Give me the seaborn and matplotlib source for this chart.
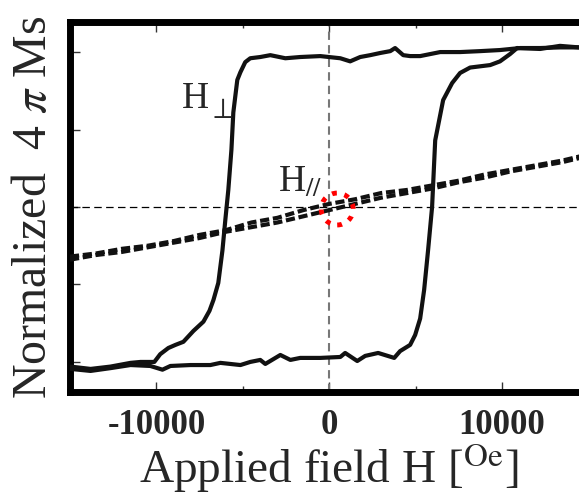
import numpy as np
import pandas as pd
import matplotlib
matplotlib.use("Agg")
import matplotlib.pyplot as plt
from matplotlib.patches import Ellipse
import seaborn as sns

# H_perp hysteresis loop: descending branch (from +H to -H)
perp_down_x = [15000, 14450, 13350, 12200, 11040, 9880, 8730, 7570, 6420, 5260, 4680, 4280, 3810,
               3530, 2950, 2370, 1790, 1210, 640, -520, -1680, -2540, -3410, -3990, -4570, -4860,
               -5140, -5320, -5430, -5550, -5660, -5840, -6010, -6180, -6420, -6700, -6930, -7280,
               -7860, -8440, -8900, -9310, -9780, -10120, -10920, -11500, -12660, -13810, -14970]
perp_down_y = [1.04, 1.03, 1.03, 1.026, 1.026, 1.013, 1.006, 1.0, 1.0, 0.974, 0.974, 0.98, 1.026,
               1.006, 0.994, 0.98, 0.968, 0.94, 0.96, 0.974, 0.968, 0.96, 0.98, 0.968, 0.96, 0.935,
               0.87, 0.82, 0.72, 0.61, 0.37, 0.11, -0.08, -0.28, -0.49, -0.60, -0.67, -0.74,
               -0.80, -0.87, -0.89, -0.91, -0.95, -1.0, -1.0, -1.006, -1.03, -1.045, -1.03]

# ascending branch (from -H to +H)
perp_up_x = [-14970, -13810, -12660, -11500, -10350, -9650, -9190, -8030, -6880, -6300, -5140,
             -4570, -3990, -3700, -2830, -2250, -1680, -520, 640, 920, 1620, 2080, 2830, 3760,
             4100, 4680, 4970, 5260, 5490, 5720, 5950, 6130, 6590, 7110, 7570, 8150, 9310, 9880,
             10460, 10870, 12200, 13350, 14450, 15000]
perp_up_y = [-1.045, -1.058, -1.04, -1.02, -1.026, -1.05, -1.026, -1.02, -1.02, -1.006, -1.02,
             -1.0, -0.987, -1.013, -0.955, -0.987, -0.974, -0.974, -0.968, -0.942, -0.994, -0.961,
             -0.942, -0.974, -0.93, -0.89, -0.826, -0.72, -0.535, -0.277, 0.0, 0.43, 0.69, 0.80,
             0.865, 0.90, 0.916, 0.94, 0.987, 1.026, 1.02, 1.04, 1.03, 1.04]

# H_parallel: two nearly overlapping branches
par_x = [-15000, -13500, -12000, -10500, -9000, -7500, -6000, -4500, -3000, -1500, 0,
         1500, 3000, 4500, 6000, 7500, 9000, 10500, 12000, 13500, 15000]
par_y_up = [-0.32, -0.30, -0.27, -0.25, -0.22, -0.18, -0.15, -0.10, -0.07, -0.02, 0.02,
            0.05, 0.09, 0.11, 0.14, 0.17, 0.21, 0.24, 0.27, 0.30, 0.34]
par_y_down = [-0.34, -0.31, -0.29, -0.26, -0.23, -0.20, -0.16, -0.13, -0.10, -0.06, -0.02,
              0.02, 0.06, 0.09, 0.12, 0.16, 0.19, 0.23, 0.26, 0.29, 0.33]

x_ticks = [-10000, 0, 10000]
x_ticklabels = ["-10000", "0", "10000"]

sns.set_style("ticks")
plt.rcParams['font.family'] = ['Liberation Serif', 'DejaVu Serif']
plt.rcParams['mathtext.fontset'] = 'stix'

fig = plt.figure(figsize=(5.79, 4.95), dpi=100)
ax = fig.add_axes([70/579, (495-392)/495, (588.5-70)/579, (392-22)/495])

ax.axvline(0, color='#777777', lw=1.5, dashes=(4, 2.5), zorder=1)
ax.axhline(0, color='black', lw=0.9, dashes=(6, 3.5), zorder=1)

sns.lineplot(x=perp_down_x, y=perp_down_y, sort=False, estimator=None, ax=ax,
             color='#111111', lw=3.0, zorder=3)
sns.lineplot(x=perp_up_x, y=perp_up_y, sort=False, estimator=None, ax=ax,
             color='#111111', lw=3.0, zorder=3)
sns.lineplot(x=par_x, y=par_y_up, sort=False, estimator=None, ax=ax,
             color='#111111', lw=3.0, dashes=False, zorder=3).lines[-1].set_dashes((2.2, 0.9))
sns.lineplot(x=par_x, y=par_y_down, sort=False, estimator=None, ax=ax,
             color='#111111', lw=3.0, dashes=False, zorder=3).lines[-1].set_dashes((2.2, 0.9))

ell = Ellipse((460, -0.013), width=1850, height=0.206, fill=False, edgecolor='red',
              lw=3.5, linestyle=(0, (1.0, 1.6)), zorder=4)
ax.add_patch(ell)

ax.text(-8500, 0.64, "H", fontsize=27, ha='left', va='baseline')
ax.text(-7000, 0.575, r"$\perp$", fontsize=21, ha='left', va='baseline')
ax.text(-2950, 0.097, r"H$_{//}$", fontsize=27, ha='left', va='baseline')

ax.set_xlim(-15000, 15000)
ax.set_ylim(-1.194, 1.194)
ax.set_xticks(x_ticks)
ax.set_xticklabels(x_ticklabels, fontweight='bold')
ax.set_xticks([-5000, 5000], minor=True)
ax.set_yticks([-1, -0.5, 0, 0.5, 1])
ax.set_yticklabels([])
ax.tick_params(axis='both', which='major', direction='in', length=7.5, width=1.0,
               color='#333333', top=True, right=True, labelsize=25, pad=12)
ax.tick_params(axis='both', which='minor', direction='in', length=4.5, width=1.0,
               color='#333333', top=True, right=True)
for s in ax.spines.values():
    s.set_linewidth(5)
    s.set_color('black')

ax.set_xlabel(r"Applied field H [$^{\mathrm{Oe}}$]", fontsize=34)
ax.xaxis.set_label_coords(0.5, -49/370)
ax.set_ylabel(r"Normalized  4 $\pi$ Ms", fontsize=34.5)
ax.yaxis.set_label_coords(-0.027, 0.5)

fig.savefig("out.png", dpi=100)
